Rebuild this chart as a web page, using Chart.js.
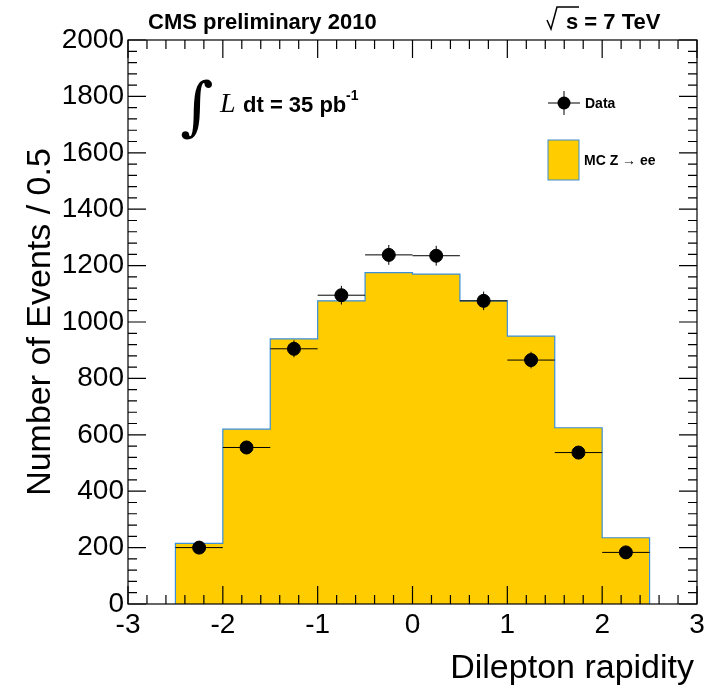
<!DOCTYPE html>
<html><head><meta charset="utf-8">
<script src="https://cdn.jsdelivr.net/npm/chart.js@4"></script>
<style>html,body{margin:0;background:#fff}#wrap{width:723px;height:690px}</style>
</head><body><div id="wrap"><canvas id="c" width="723" height="690"></canvas></div>
<script>
// MC histogram bin edges and heights (bin width 0.5)
const binEdges = [-2.5, -2, -1.5, -1, -0.5, 0, 0.5, 1, 1.5, 2, 2.5];
const mcCounts = [215, 620, 940, 1075, 1175, 1170, 1075, 950, 625, 235];
// Data points at bin centres
const dataX = [-2.25, -1.75, -1.25, -0.75, -0.25, 0.25, 0.75, 1.25, 1.75, 2.25];
const dataY = [200, 555, 905, 1095, 1238, 1235, 1075, 865, 537, 183];

const F = 'Helvetica, "Liberation Sans", Arial, sans-serif';

const stepPts = [{x: binEdges[0], y: 0}];
mcCounts.forEach((v, i) => {
    stepPts.push({x: binEdges[i], y: v});
    stepPts.push({x: binEdges[i + 1], y: v});
});
stepPts.push({x: binEdges[binEdges.length - 1], y: 0});

const decor = {
    id: 'decor',
    afterDatasetsDraw(chart) {
        const ctx = chart.ctx, x = chart.scales.x, y = chart.scales.y, a = chart.chartArea;
        ctx.save();
        // error bars
        ctx.strokeStyle = '#000'; ctx.lineWidth = 1;
        dataX.forEach((xv, i) => {
            const px = x.getPixelForValue(xv), py = y.getPixelForValue(dataY[i]);
            const e = Math.sqrt(dataY[i]);
            ctx.beginPath();
            ctx.moveTo(x.getPixelForValue(xv - 0.25), py); ctx.lineTo(x.getPixelForValue(xv + 0.25), py);
            ctx.moveTo(px, y.getPixelForValue(dataY[i] - e)); ctx.lineTo(px, y.getPixelForValue(dataY[i] + e));
            ctx.stroke();
        });
        // frame
        ctx.lineWidth = 1.2;
        ctx.strokeRect(a.left, a.top, a.right - a.left, a.bottom - a.top);
        // ticks on all sides
        ctx.beginPath();
        for (let v = -3; v <= 3.001; v += 0.2) {
            const px = x.getPixelForValue(v);
            const major = Math.abs(v - Math.round(v)) < 1e-6;
            const len = major ? 18 : 9;
            ctx.moveTo(px, a.bottom); ctx.lineTo(px, a.bottom - len);
            ctx.moveTo(px, a.top); ctx.lineTo(px, a.top + len);
        }
        for (let v = 0; v <= 2000; v += 40) {
            const py = y.getPixelForValue(v);
            const len = v % 200 === 0 ? 18 : 9;
            ctx.moveTo(a.left, py); ctx.lineTo(a.left + len, py);
            ctx.moveTo(a.right, py); ctx.lineTo(a.right - len, py);
        }
        ctx.stroke();
        // titles
        ctx.fillStyle = '#000';
        ctx.font = 'bold 22px ' + F; ctx.textBaseline = 'alphabetic';
        ctx.textAlign = 'left'; ctx.fillText('CMS preliminary 2010', 148, 29);
        ctx.fillText('s = 7 TeV', 566, 29);
        ctx.beginPath(); ctx.lineWidth = 1.5;
        ctx.moveTo(547, 20); ctx.lineTo(551, 29); ctx.lineTo(557, 7); ctx.lineTo(579, 7); ctx.stroke();
        ctx.textAlign = 'right'; ctx.font = '34px ' + F;
        ctx.fillText('Dilepton rapidity', 694, 678);
        ctx.save(); ctx.translate(50, 322); ctx.rotate(-Math.PI / 2);
        ctx.textAlign = 'center'; ctx.fillText('Number of Events / 0.5', 0, 0); ctx.restore();
        // integral label
        ctx.textAlign = 'left';
        ctx.font = 'italic 64px "DejaVu Serif", serif'; ctx.fillText('\u222B', 180, 128);
        ctx.font = 'italic 28px "Liberation Serif", serif'; ctx.fillText('L', 220, 112);
        ctx.font = 'bold 22px ' + F; ctx.fillText('dt = 35 pb', 243, 112);
        ctx.font = 'bold 14px ' + F; ctx.fillText('-1', 346, 100);
        // legend
        ctx.beginPath(); ctx.lineWidth = 1;
        ctx.moveTo(548, 103); ctx.lineTo(580, 103); ctx.moveTo(564, 91); ctx.lineTo(564, 115); ctx.stroke();
        ctx.beginPath(); ctx.arc(564, 103, 6.5, 0, Math.PI * 2); ctx.fill();
        ctx.font = 'bold 14px ' + F; ctx.fillText('Data', 585, 108);
        ctx.fillStyle = '#ffcc00'; ctx.fillRect(548, 140, 31, 40);
        ctx.strokeStyle = '#3a8fd8'; ctx.strokeRect(548, 140, 31, 40);
        ctx.fillStyle = '#000'; ctx.fillText('MC Z \u2192 ee', 584, 165);
        ctx.restore();
    }
};

new Chart(document.getElementById('c'), {
    type: 'scatter',
    data: {
        datasets: [
            {
                label: 'Data', data: dataX.map((v, i) => ({x: v, y: dataY[i]})),
                backgroundColor: '#000', borderColor: '#000', pointRadius: 6.5, order: 0
            },
            {
                type: 'line', label: 'MC Z \u2192 ee', data: stepPts,
                fill: 'origin', backgroundColor: '#ffcc00', borderColor: '#3a8fd8',
                borderWidth: 1.2, pointRadius: 0, tension: 0, order: 1
            }
        ]
    },
    options: {
        responsive: false, animation: false,
        layout: {padding: {top: 40, right: 26, left: 0, bottom: 0}},
        plugins: {legend: {display: false}, tooltip: {enabled: false}},
        scales: {
            x: {
                type: 'linear', min: -3, max: 3,
                afterFit: s => { s.height = 86; },
                grid: {display: false, drawTicks: false}, border: {display: false},
                ticks: {stepSize: 1, color: '#000', font: {size: 28, family: F}, padding: 4}
            },
            y: {
                min: 0, max: 2000,
                afterFit: s => { s.width = 128; },
                grid: {display: false, drawTicks: false}, border: {display: false},
                ticks: {stepSize: 200, color: '#000', font: {size: 28, family: F}, padding: 4,
                        callback: v => String(v)}
            }
        }
    },
    plugins: [decor]
});
</script>
</body></html>
